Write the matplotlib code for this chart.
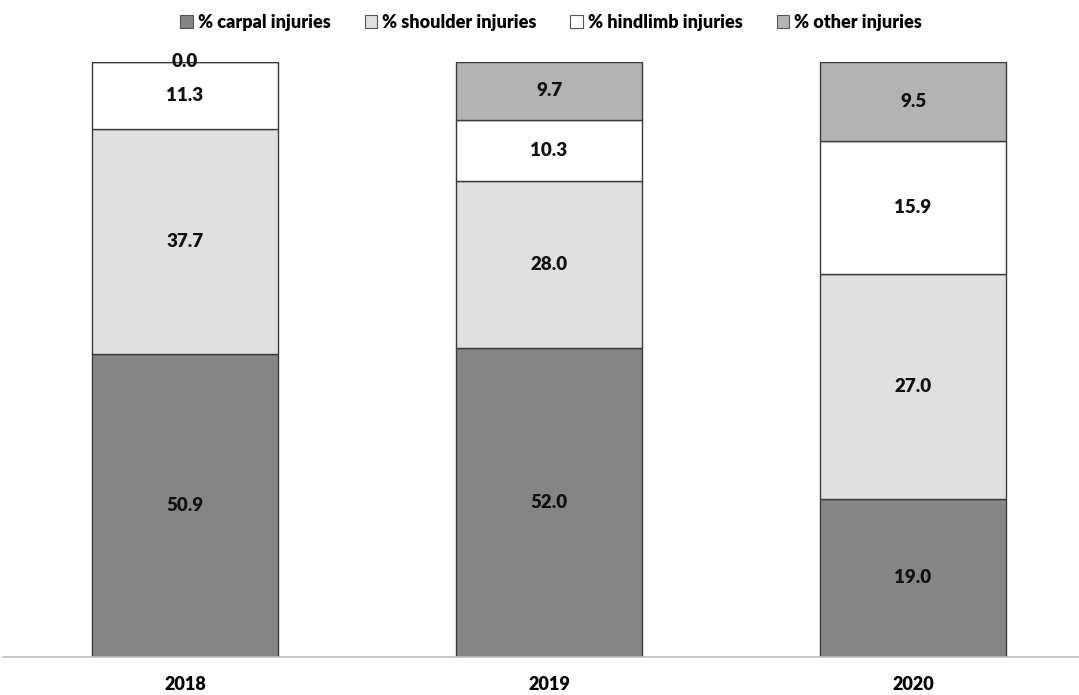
import numpy as np
import matplotlib.pyplot as plt
from matplotlib.patches import Patch

plt.rcParams['font.family'] = ['Lato', 'DejaVu Sans']
plt.rcParams['font.weight'] = 'bold'

years = ['2018', '2019', '2020']
series = ['% carpal injuries', '% shoulder injuries', '% hindlimb injuries', '% other injuries']
carpal = [50.9, 52.0, 19.0]
shoulder = [37.7, 28.0, 27.0]
hindlimb = [11.3, 10.3, 15.9]
other = [0.0, 9.7, 9.5]
colors = ['#858585', '#e0e0e0', '#ffffff', '#b3b3b3']

values = np.array([carpal, shoulder, hindlimb, other])
# each column is shown as share of its own total (100% stacked)
shares = values / values.sum(axis=0) * 100

fig = plt.figure(figsize=(10.79, 6.95), dpi=100)
ax = fig.add_axes([3 / 1079, 38 / 695, 1 - 3 / 1079, 595 / 695])

x = np.arange(len(years))
bottom = np.zeros(len(years))
for i in range(len(series)):
    ax.bar(x, shares[i], 0.511, bottom=bottom, color=colors[i],
           edgecolor='#3a3a3a', linewidth=1.0, zorder=2)
    for j in range(len(years)):
        yc = bottom[j] + shares[i][j] / 2
        ax.text(x[j], yc, f'{values[i][j]:.1f}', ha='center', va='center',
                fontsize=13.5, fontweight='heavy', color='#111111', zorder=3)
    bottom += shares[i]

ax.set_xlim(-0.5, 2.456)
ax.set_ylim(0, 100)
for s in ['top', 'right', 'left']:
    ax.spines[s].set_visible(False)
ax.spines['bottom'].set_color('#bfbfbf')
ax.spines['bottom'].set_linewidth(1.2)
ax.set_yticks([])
ax.set_xticks(x)
ax.set_xticklabels(years, fontsize=13, fontweight='heavy')
ax.tick_params(axis='x', length=0, pad=14)

handles = [Patch(facecolor=c, edgecolor='#555555', linewidth=0.8) for c in colors]
fig.legend(handles, series, loc='center', bbox_to_anchor=(551 / 1079, 0.968), ncol=4,
           frameon=False, handlelength=0.7, handleheight=0.7,
           handletextpad=0.25, columnspacing=1.9,
           prop={'weight': 'heavy', 'size': 13})

fig.savefig('out.png', dpi=100)
